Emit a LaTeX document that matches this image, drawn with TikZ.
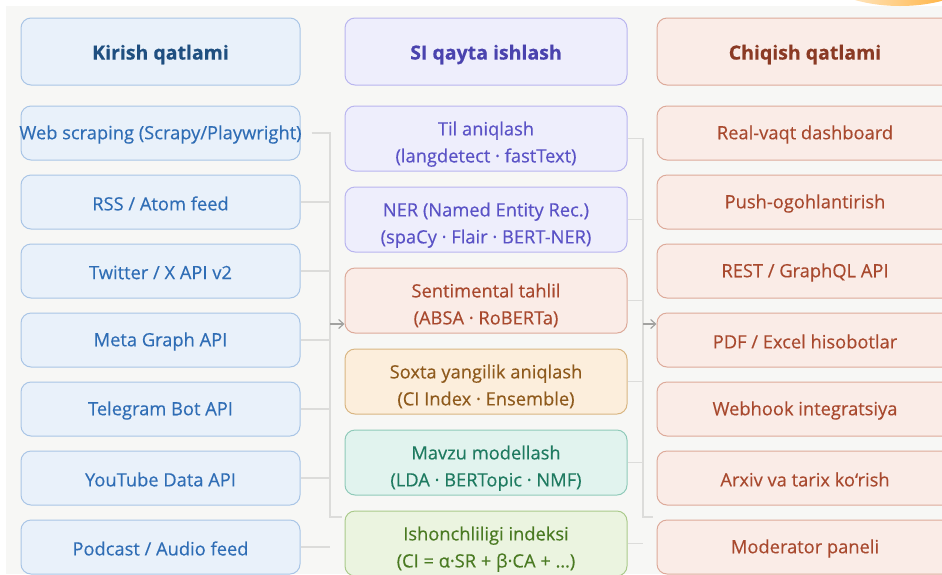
\documentclass[tikz,border=0pt]{standalone}
\usepackage{fontspec}
\setmainfont{Open Sans}[FakeBold=0.35]
\newfontfamily\headfont{Open Sans}[FakeBold=0.3]
\usetikzlibrary{arrows.meta}
\definecolor{bgc}{HTML}{F7F7F5}
\definecolor{bFill}{HTML}{E9F1FA}
\definecolor{bDraw}{HTML}{A9C5E6}
\definecolor{bText}{HTML}{2F6DB5}
\definecolor{bHead}{HTML}{1F4F80}
\definecolor{pFill}{HTML}{EEEEFC}
\definecolor{pDraw}{HTML}{B9B5EF}
\definecolor{pText}{HTML}{5A52C6}
\definecolor{pHead}{HTML}{4A43AE}
\definecolor{sFill}{HTML}{FAECE7}
\definecolor{sDraw}{HTML}{DDAA9A}
\definecolor{sText}{HTML}{A8492E}
\definecolor{sHead}{HTML}{8A3A24}
\definecolor{oFill}{HTML}{FCEEDC}
\definecolor{oDraw}{HTML}{D9B682}
\definecolor{oText}{HTML}{8E5A1C}
\definecolor{tFill}{HTML}{E1F3EE}
\definecolor{tDraw}{HTML}{8FCAB9}
\definecolor{tText}{HTML}{1E7A60}
\definecolor{gFill}{HTML}{EBF4E0}
\definecolor{gDraw}{HTML}{AACA8B}
\definecolor{gText}{HTML}{4A7A22}
\definecolor{lineC}{HTML}{DCDCDA}
\definecolor{arrC}{HTML}{A2A2A0}
\newcommand\twolines[2]{\raisebox{-6pt}[\height][\depth]{\begin{tabular}{@{}c@{}}#1\\[5pt]#2\end{tabular}}}
\newcommand\headtext[1]{\raisebox{-3pt}[\height][\depth]{#1}}
\newcommand\onel[1]{\raisebox{-1.5pt}[\height][\depth]{#1}}
\tikzset{
  boxbase/.style={rounded corners=10pt, draw, line width=1pt, inner sep=0pt, align=center},
  headbox/.style={boxbase, minimum height=67pt, font=\fontsize{19.5}{24}\selectfont\bfseries},
  lbox/.style={boxbase, minimum width=279pt, minimum height=54pt, fill=bFill, draw=bDraw, text=bText, font=\fontsize{18.3}{22}\selectfont},
  mbox/.style={boxbase, minimum width=282pt, minimum height=65pt, font=\fontsize{18.3}{22}\selectfont},
  rbox/.style={boxbase, minimum width=296pt, minimum height=54pt, fill=sFill, draw=sDraw, text=sText, font=\fontsize{18.3}{22}\selectfont},
  purp/.style={fill=pFill, draw=pDraw, text=pText},
  salm/.style={fill=sFill, draw=sDraw, text=sText},
  oran/.style={fill=oFill, draw=oDraw, text=oText},
  teal/.style={fill=tFill, draw=tDraw, text=tText},
  gree/.style={fill=gFill, draw=gDraw, text=gText},
  conn/.style={draw=lineC, line width=1.2pt},
  arr/.style={draw=arrC, line width=1.2pt, -{Straight Barb[length=5pt,width=9pt]}}
}
\begin{document}
\begin{tikzpicture}[x=1pt,y=-1pt]
\useasboundingbox (0,0) rectangle (942,574);
\fill[white] (0,0) rectangle (942,574);
\fill[bgc] (6,6) rectangle (942,574);
% top-right decoration
\begin{scope}
\clip (840,0) rectangle (942,6);
\shade[left color=white, right color=orange!80!yellow] (900,-50) ellipse (100pt and 56pt);
\end{scope}

% headers
\node[headbox, minimum width=279pt, fill=bFill, draw=bDraw, text=bHead] (hL) at (160.5,51.5) {\headtext{Kirish qatlami}};
\node[headbox, minimum width=282pt, purp, text=pHead] (hM) at (486,51.5) {\headtext{SI qayta ishlash}};
\node[headbox, minimum width=296pt, salm, text=sHead] (hR) at (805,51.5) {\headtext{Chiqish qatlami}};

% left column
\node[lbox] (L1) at (160.5,133) {\onel{\makebox[0pt]{Web scraping (Scrapy/Playwright)}}};
\node[lbox] (L2) at (160.5,202) {\onel{RSS / Atom feed}};
\node[lbox] (L3) at (160.5,271) {\onel{Twitter / X API v2}};
\node[lbox] (L4) at (160.5,340) {\onel{Meta Graph API}};
\node[lbox] (L5) at (160.5,409) {\onel{Telegram Bot API}};
\node[lbox] (L6) at (160.5,478) {\onel{YouTube Data API}};
\node[lbox] (L7) at (160.5,547) {\onel{Podcast / Audio feed}};

% middle column
\node[mbox, purp] (M1) at (486,138.5) {\twolines{Til aniqlash}{(langdetect · fastText)}};
\node[mbox, purp] (M2) at (486,219.5) {\twolines{NER (Named Entity Rec.)}{(spaCy · Flair · BERT-NER)}};
\node[mbox, salm] (M3) at (486,300.5) {\twolines{Sentimental tahlil}{(ABSA · RoBERTa)}};
\node[mbox, oran] (M4) at (486,381.5) {\twolines{Soxta yangilik aniqlash}{(CI Index · Ensemble)}};
\node[mbox, teal] (M5) at (486,462.5) {\twolines{Mavzu modellash}{(LDA · BERTopic · NMF)}};
\node[mbox, gree] (M6) at (486,543.5) {\twolines{Ishonchliligi indeksi}{(CI = α·SR + β·CA + …)}};

% right column
\node[rbox] (R1) at (805,133) {\onel{Real-vaqt dashboard}};
\node[rbox] (R2) at (805,202) {\onel{Push-ogohlantirish}};
\node[rbox] (R3) at (805,271) {\onel{REST / GraphQL API}};
\node[rbox] (R4) at (805,340) {\onel{PDF / Excel hisobotlar}};
\node[rbox] (R5) at (805,409) {\onel{Webhook integratsiya}};
\node[rbox] (R6) at (805,478) {\onel{Arxiv va tarix ko‘rish}};
\node[rbox] (R7) at (805,547) {\onel{Moderator paneli}};

% left bus
\coordinate (bL) at (330,0);
\coordinate (bLend) at (330,517);
\coordinate (aL) at (330,324);
\draw[conn] ([xshift=11pt]L1.east) -- (L1.east -| bL) -- (bLend) -- ++(12,0);
\foreach \i in {2,...,6} { \draw[conn] (L\i.east) -- (L\i.east -| bL); }
\draw[conn] (L7.east) -- (L7.east -| bL);
\draw[arr] (aL) -- (aL -| M3.west);

% right bus
\coordinate (bR) at (643,0);
\coordinate (bRend) at (643,517);
\coordinate (aR) at (643,324);
\draw[conn] (M1.east) -- (M1.east -| bR) -- (bRend) -- ++(10,0);
\foreach \i in {2,...,5} { \draw[conn] (M\i.east) -- (M\i.east -| bR); }
\draw[conn] (M6.east) -- (M6.east -| bR);
\draw[arr] (aR) -- (aR -| R4.west);
\end{tikzpicture}
\end{document}
